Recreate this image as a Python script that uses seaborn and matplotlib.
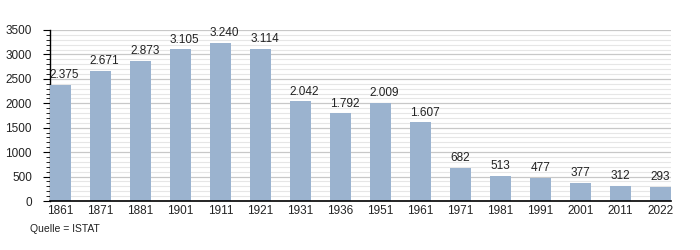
import matplotlib
matplotlib.use("Agg")
import matplotlib.pyplot as plt
import seaborn as sns
import pandas as pd
from matplotlib.ticker import MultipleLocator

years = ["1861", "1871", "1881", "1901", "1911", "1921", "1931", "1936",
         "1951", "1961", "1971", "1981", "1991", "2001", "2011", "2022"]
population = [2375, 2671, 2873, 3105, 3240, 3114, 2042, 1792,
              2009, 1607, 682, 513, 477, 377, 312, 293]
value_labels = ["2.375", "2.671", "2.873", "3.105", "3.240", "3.114", "2.042", "1.792",
                "2.009", "1.607", "682", "513", "477", "377", "312", "293"]
source_text = "Quelle = ISTAT"

sns.set_theme(style="white")
plt.rcParams['font.family'] = ['Liberation Sans', 'DejaVu Sans']

df = pd.DataFrame({"year": years, "pop": population})

fig = plt.figure(figsize=(7, 2.5), dpi=100)
ax = fig.add_axes([50/700, 49/250, 621/700, 171/250])

sns.barplot(data=df, x="year", y="pop", order=years, color="#9bb3cf",
            saturation=1, width=0.525, ax=ax, zorder=3, linewidth=0)

ax.set_xlim(-0.2625, len(years) - 1 + 0.2625)
ax.set_ylim(0, 3500)
ax.yaxis.set_major_locator(MultipleLocator(500))
ax.yaxis.set_minor_locator(MultipleLocator(100))
ax.grid(which="major", axis="y", color="#c8c8c8", linewidth=0.9, zorder=0)
ax.grid(which="minor", axis="y", color="#e6e6e6", linewidth=0.8, zorder=0)
ax.set_axisbelow(True)

for s in ["top", "right"]:
    ax.spines[s].set_visible(False)
ax.spines["left"].set_color("black")
ax.spines["bottom"].set_color("black")
ax.spines["left"].set_linewidth(1)
ax.spines["bottom"].set_linewidth(1.2)
ax.spines["bottom"].set_zorder(4)

ax.tick_params(axis="y", which="major", direction="out", length=5, width=0.8,
               color="black", left=True, labelsize=8.5, pad=8, labelcolor="#222222")
ax.tick_params(axis="y", which="minor", direction="out", length=3, width=0.6,
               color="black", left=True)
ax.tick_params(axis="x", which="major", length=0, labelsize=8.5, pad=3, labelcolor="#222222")
ax.set_xlabel("")
ax.set_ylabel("")

for patch, lab in zip(ax.patches, value_labels):
    x = patch.get_x() + patch.get_width() / 2
    h = patch.get_height()
    dx = 3 if "." in lab else 0
    ax.annotate(lab, (x, h), xytext=(dx, 2.5), textcoords="offset points",
                ha="center", va="bottom", fontsize=8.5, color="#222222")

fig.text(30/700, 1 - 229/250, source_text, fontsize=7.5, ha="left", va="center",
         color="#222222")

fig.savefig("out.png", dpi=100)
